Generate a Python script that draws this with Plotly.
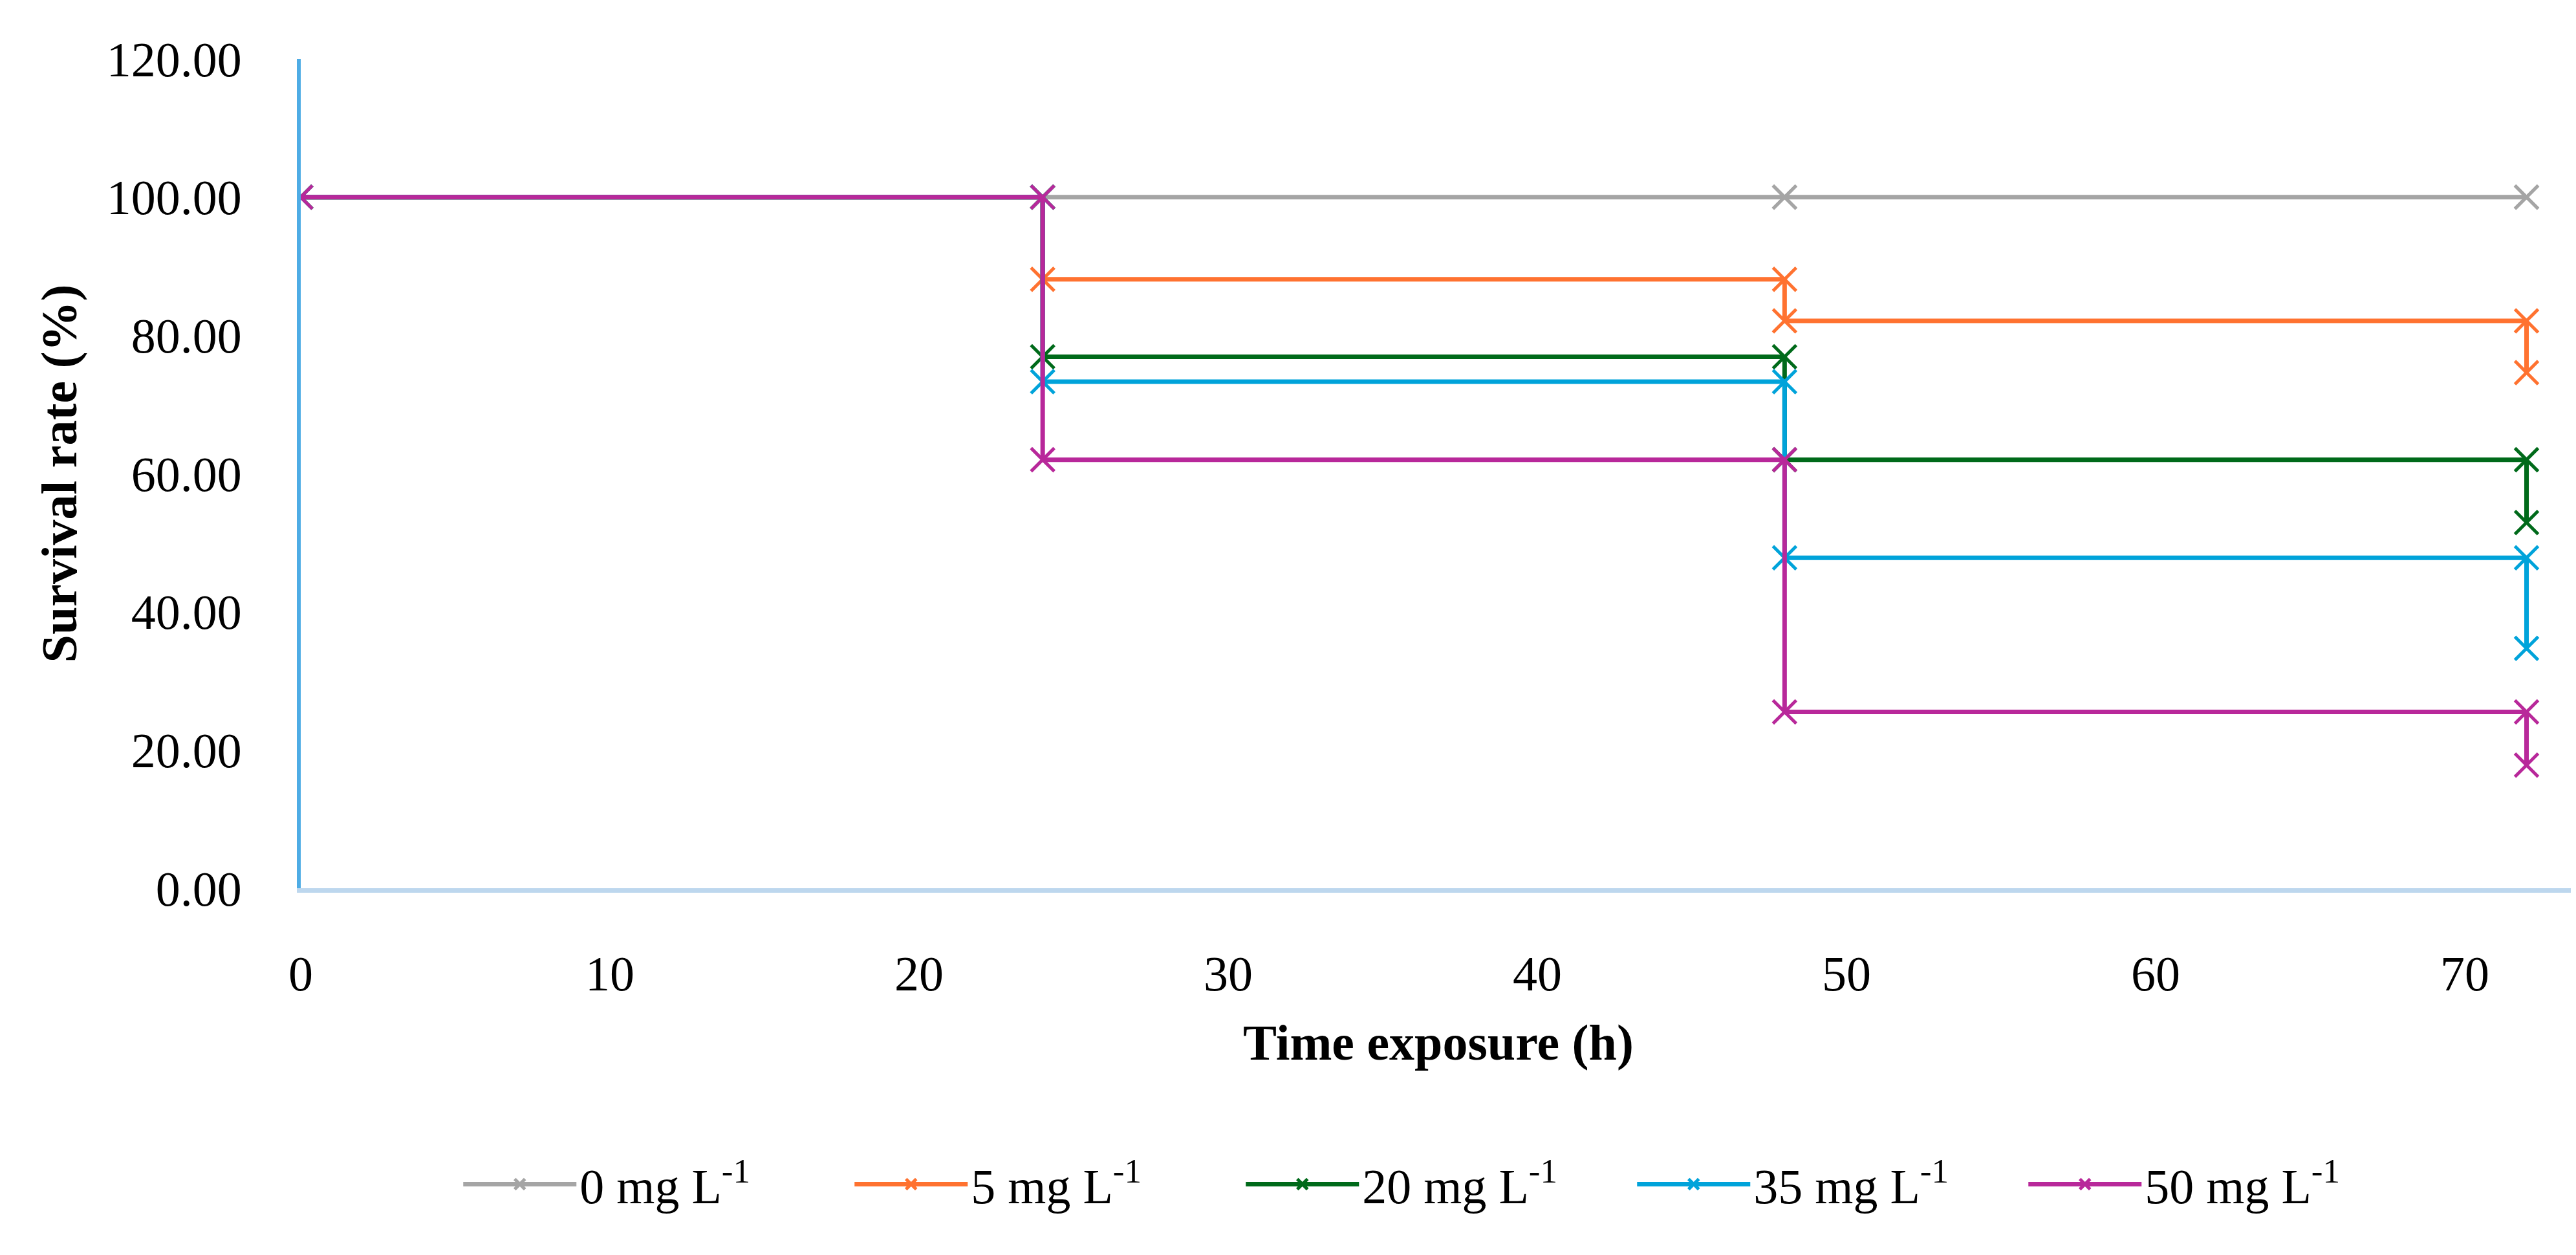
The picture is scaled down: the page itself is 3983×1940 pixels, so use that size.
import plotly.graph_objects as go

# exposure time (h) and survival rate (%) per concentration
time_h = [0, 24, 48, 72]
labels = ["0 mg L<sup>-1</sup>", "5 mg L<sup>-1</sup>", "20 mg L<sup>-1</sup>",
          "35 mg L<sup>-1</sup>", "50 mg L<sup>-1</sup>"]
surv_0 = [100, 100, 100, 100]
surv_5 = [100, 88.1, 82.1, 74.6]
surv_20 = [100, 76.9, 62.0, 52.9]
surv_35 = [100, 73.3, 47.8, 34.7]
surv_50 = [100, 62.0, 25.5, 17.8]

colors = ["#A5A5A5", "#FF7230", "#006A1A", "#00A3DA", "#B8289A"]
FONT = "Liberation Serif"


def step_points(t, s):
    # Kaplan-Meier style: keep the previous value up to t, then drop
    xs, ys = [t[0]], [s[0]]
    for i in range(1, len(t)):
        xs += [t[i], t[i]]
        ys += [s[i - 1], s[i]]
    return xs, ys


fig = go.Figure()
for name, s, c in zip(labels, [surv_0, surv_5, surv_20, surv_35, surv_50], colors):
    xs, ys = step_points(time_h, s)
    fig.add_trace(go.Scatter(
        x=xs, y=ys, name=name, mode="lines+markers",
        line=dict(color=c, width=7),
        marker=dict(symbol="x-thin", size=36, color=c, line=dict(color=c, width=5)),
    ))

fig.update_layout(
    width=3983, height=1940,
    margin=dict(l=457, r=8, t=83, b=575),
    plot_bgcolor="white", paper_bgcolor="white",
    font=dict(family=FONT, size=76, color="black"),
    legend=dict(orientation="h", x=0.07, xanchor="left", y=-0.357, yanchor="middle",
                itemwidth=175, entrywidth=415, entrywidthmode="pixels",
                font=dict(family=FONT, size=76), traceorder="normal"),
)
fig.update_xaxes(
    range=[0, 73.6], dtick=10, showgrid=False, zeroline=False,
    showline=True, linecolor="#BDD7EE", linewidth=7,
    ticks="", ticklabelstandoff=60,
    tickfont=dict(family=FONT, size=76),
    title=dict(text="<b>Time exposure (h)</b>", font=dict(family=FONT, size=78), standoff=40),
)
fig.update_yaxes(
    range=[0, 120], dtick=20, tickformat=".2f", showgrid=False, zeroline=False,
    showline=True, linecolor="#4EACE5", linewidth=6,
    ticks="", ticklabelstandoff=70,
    tickfont=dict(family=FONT, size=76),
    title=dict(text="<b>Survival rate (%)</b>", font=dict(family=FONT, size=78), standoff=22),
)

fig.write_html("out.html")
